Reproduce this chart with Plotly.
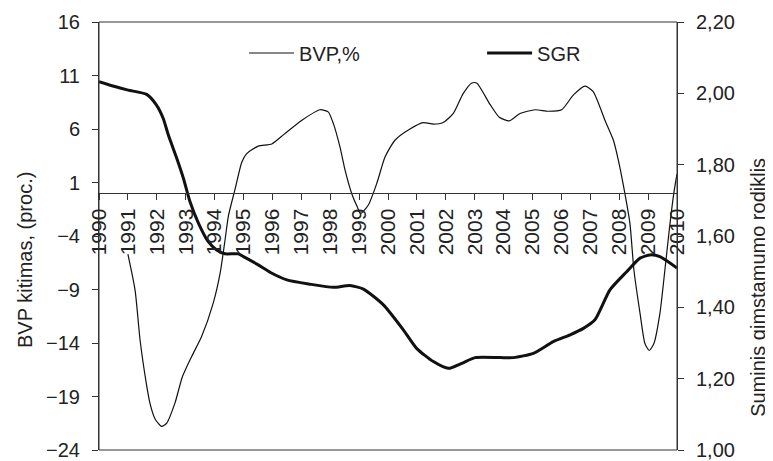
import plotly.graph_objects as go

# --- data ---
years = list(range(1990, 2011))
year_labels = [str(y) for y in years]

bvp_t = [1991.0, 1991.25, 1991.42, 1991.62, 1991.76, 1991.94, 1992.17, 1992.34, 1992.63, 1992.88,
         1993.2, 1993.55, 1993.95, 1994.19, 1994.36, 1994.48, 1994.71, 1994.94, 1995.11, 1995.51,
         1995.98, 1996.4, 1997.01, 1997.65, 1997.93, 1998.11, 1998.34, 1998.51, 1998.74, 1998.94,
         1999.05, 1999.32, 1999.61, 1999.9, 2000.24, 2000.76, 2001.22, 2001.57, 2001.91, 2002.26,
         2002.6, 2002.9, 2003.07, 2003.53, 2003.85, 2004.2, 2004.57, 2005.09, 2005.55, 2006.01,
         2006.41, 2006.82, 2007.1, 2007.51, 2007.8, 2007.97, 2008.14, 2008.37, 2008.51, 2008.72,
         2008.89, 2009.04, 2009.2, 2009.41, 2009.58, 2009.73, 2009.89, 2010.0]
bvp_v = [-5.7, -9.1, -13.7, -17.5, -19.6, -21.1, -21.8, -21.5, -19.6, -17.2,
         -15.3, -13.4, -10.3, -7.5, -4.4, -2.1, 0.4, 2.9, 3.7, 4.4,
         4.6, 5.5, 6.8, 7.8, 7.6, 6.5, 4.3, 2.2, 0.0, -1.3,
         -1.9, -1.1, 0.9, 3.4, 4.95, 6.0, 6.6, 6.45, 6.6, 7.45,
         9.3, 10.3, 10.3, 8.3, 7.1, 6.76, 7.45, 7.8, 7.66, 7.8,
         9.16, 10.0, 9.5, 6.8, 4.95, 3.1, 0.8, -2.8, -7.2, -11.2,
         -14.05, -14.7, -14.05, -11.2, -7.2, -3.5, 0.0, 1.8]

sgr_t = [1990.0, 1990.55, 1991.01, 1991.65, 1991.99, 1992.22, 1992.4, 1992.69, 1992.92, 1993.15,
         1993.44, 1993.78, 1994.07, 1994.36, 1994.82, 1995.05, 1995.51, 1995.95, 1996.5, 1997.3,
         1998.11, 1998.68, 1999.15, 1999.84, 2000.53, 2000.99, 2001.57, 2002.09, 2002.55, 2003.01,
         2003.88, 2004.34, 2005.03, 2005.72, 2006.3, 2006.76, 2007.16, 2007.68, 2008.26, 2008.72,
         2009.07, 2009.41, 2010.0]
sgr_v = [2.033, 2.019, 2.009, 1.997, 1.967, 1.930, 1.883, 1.818, 1.762, 1.696,
         1.636, 1.584, 1.561, 1.550, 1.550, 1.540, 1.519, 1.497, 1.477, 1.465,
         1.456, 1.461, 1.451, 1.407, 1.337, 1.285, 1.248, 1.229, 1.243, 1.259,
         1.259, 1.259, 1.271, 1.304, 1.323, 1.341, 1.365, 1.449, 1.500, 1.538,
         1.547, 1.542, 1.510]

left_ticks = [-24, -19, -14, -9, -4, 1, 6, 11, 16]
right_ticks = [1.0, 1.2, 1.4, 1.6, 1.8, 2.0, 2.2]

FONT = "Arial, Liberation Sans, sans-serif"
AX = "#333333"

fig = go.Figure()
fig.add_trace(go.Scatter(x=sgr_t, y=sgr_v, name="SGR", yaxis="y2", mode="lines",
                         line=dict(color="#111111", width=3, shape="spline", smoothing=0.6)))
fig.add_trace(go.Scatter(x=bvp_t, y=bvp_v, name="BVP,%", yaxis="y", mode="lines",
                         line=dict(color="#111111", width=1.2, shape="spline", smoothing=0.6)))

zero_pos = (0 - (-24)) / 40.0

fig.update_layout(
    width=773, height=461,
    margin=dict(l=91, r=104, t=14, b=19, autoexpand=False),
    paper_bgcolor="white", plot_bgcolor="white",
    separators=", ",
    font=dict(family=FONT, size=20, color="#222222"),
    showlegend=True,
    legend=dict(orientation="h", x=0.251, y=0.9276, xanchor="left", yanchor="middle",
                traceorder="reversed", font=dict(size=20), entrywidth=178,
                bgcolor="rgba(0,0,0,0)", itemwidth=45),
    xaxis=dict(range=[1990, 2010], anchor="free", position=zero_pos,
               tickvals=years, ticktext=year_labels, tickangle=-90,
               ticks="outside", ticklen=6, tickcolor=AX, showline=True, linecolor=AX,
               linewidth=1, showgrid=False, zeroline=False, tickfont=dict(size=21)),
    yaxis=dict(range=[-24, 16], tickvals=left_ticks, ticks="outside", ticklen=6,
               tickcolor=AX, showline=True, linecolor=AX, linewidth=1,
               showgrid=False, zeroline=False, ticklabelstandoff=8),
    yaxis2=dict(range=[1.0, 2.2], tickvals=right_ticks, tickformat=".2f", overlaying="y",
                side="right", anchor="x", ticks="outside", ticklen=6, tickcolor=AX,
                showline=True, linecolor=AX, linewidth=1, showgrid=False,
                zeroline=False, ticklabelstandoff=8),
    shapes=[dict(type="rect", xref="paper", yref="paper", x0=0, x1=1, y0=0, y1=1,
                 line=dict(color=AX, width=1), layer="above")],
    annotations=[
        dict(text="BVP kitimas, (proc.)", xref="paper", yref="paper", x=-0.128, y=0.444,
             textangle=-90, showarrow=False, font=dict(size=20), xanchor="center", yanchor="middle"),
        dict(text="Suminis gimstamumo rodiklis", xref="paper", yref="paper", x=1.140, y=0.381,
             textangle=-90, showarrow=False, font=dict(size=20), xanchor="center", yanchor="middle"),
    ],
)

fig.write_html("out.html")
